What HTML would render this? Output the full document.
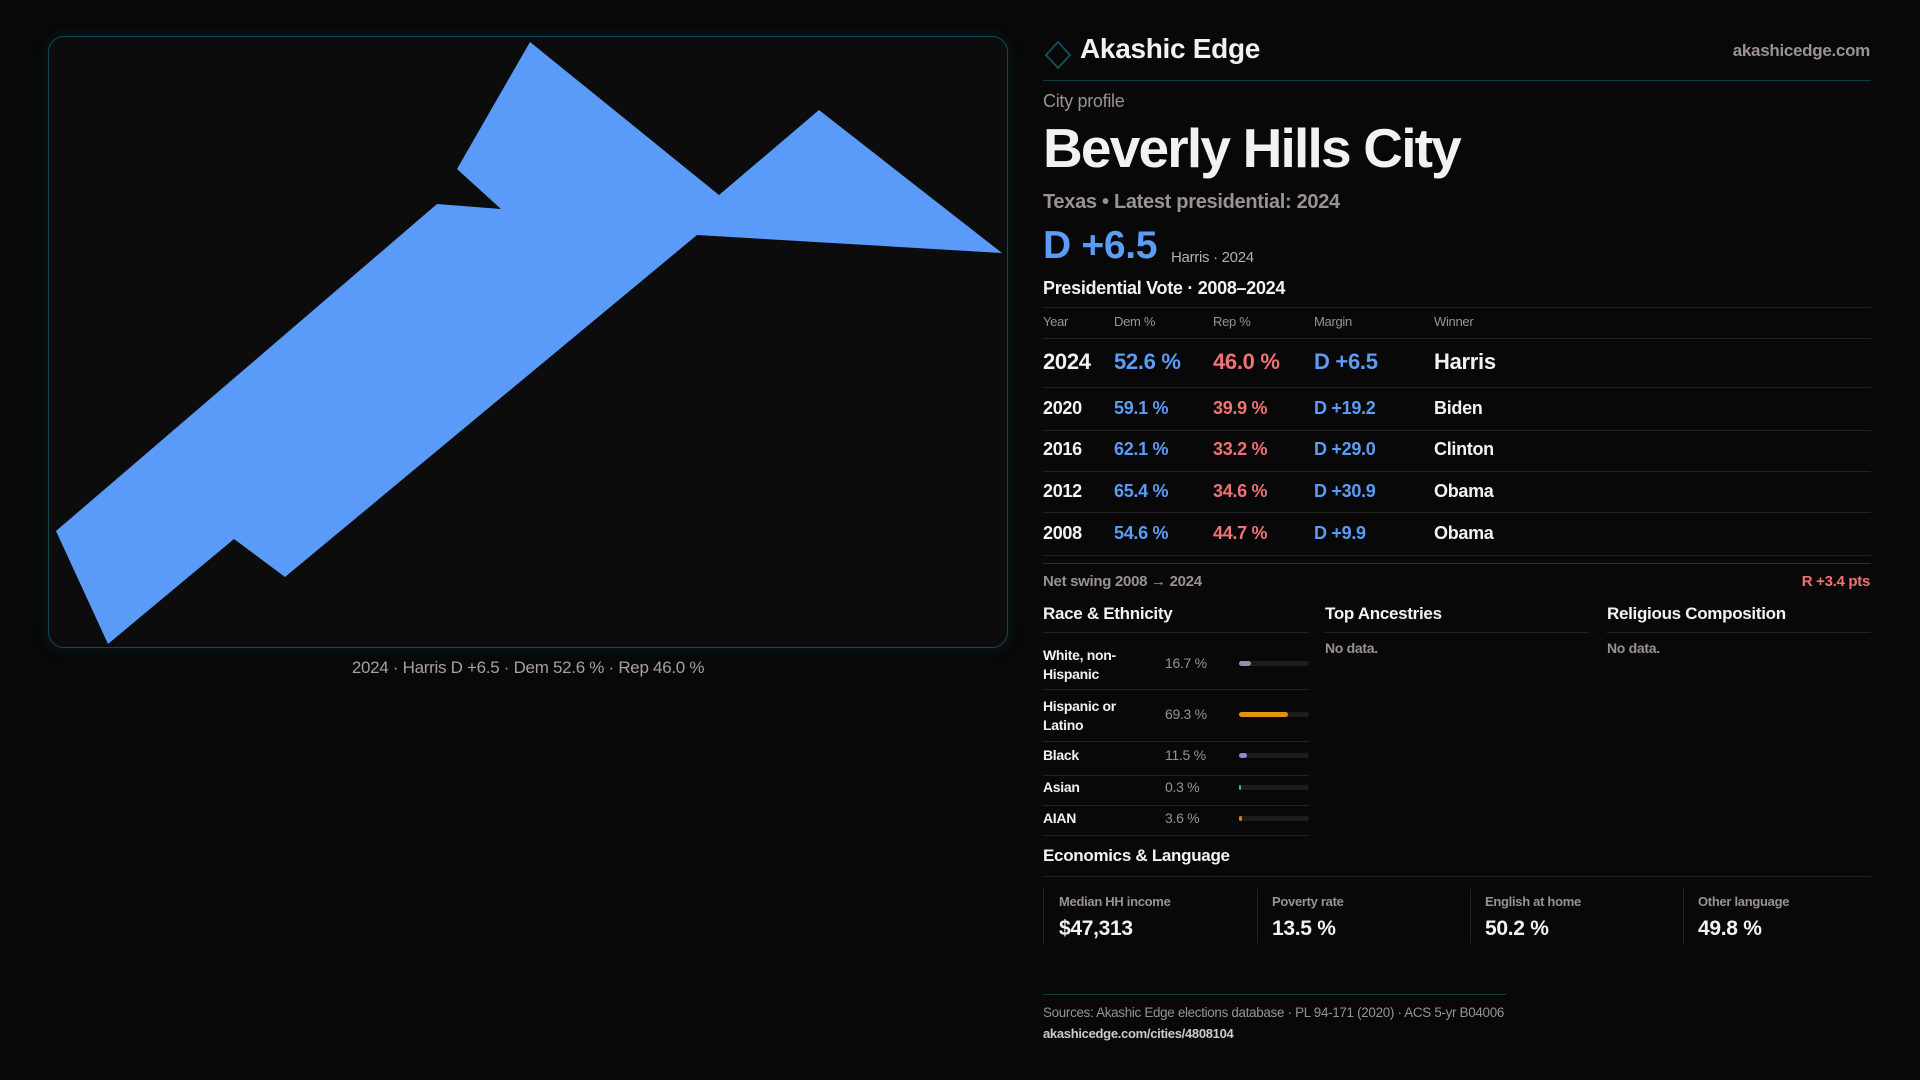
<!DOCTYPE html>
<html><head><meta charset="utf-8"><style>
*{margin:0;padding:0;box-sizing:border-box}
body{width:1920px;height:1080px;background:#080808;font-family:"Liberation Sans",sans-serif;color:#f2f2f2;position:relative;overflow:hidden;letter-spacing:-0.3px}
.a{position:absolute;white-space:nowrap;line-height:1}
.panel{position:absolute;left:48px;top:36px;width:960px;height:612px;border:1.5px solid #0d4a55;border-radius:16px;background:#0d0c0d;box-shadow:0 0 14px rgba(20,90,100,0.25)}
.g{color:#9a9290}
.b{color:#5b9cf6}
.r{color:#f07272}
.hl{position:absolute;left:1043px;width:828px;height:1px;background:#232323}
.bar{position:absolute;left:1239px;width:70px;height:5px;border-radius:3px;background:#1c1c1e}
.bar i{position:absolute;left:0;top:0;height:5px;border-radius:3px}
.cell{position:absolute;top:889px;height:54px;border-left:1px solid #242424}
</style></head><body>
<div class="panel"></div>
<svg class="a" style="left:0;top:0" width="1920" height="1080">
<polygon fill="#5a9af8" points="530,42 719,195 819,110 1002,253 697,235 285,577 234,539 108,644 56,531 437,204 501,209 457,169"/>
</svg>
<div class="a g" style="left:528px;top:659px;font-size:17px;transform:translateX(-50%);color:#a8a09c">2024 · Harris D +6.5 · Dem 52.6 % · Rep 46.0 %</div>

<svg class="a" style="left:1044px;top:40px" width="28" height="30"><polygon points="14,2 26,15 14,28 2,15" fill="none" stroke="#0f5058" stroke-width="2"/></svg>
<div class="a" style="left:1080px;top:35px;font-size:28px;font-weight:bold">Akashic Edge</div>
<div class="a g" style="right:50px;top:42px;font-size:17px;font-weight:bold">akashicedge.com</div>
<div class="a" style="left:1043px;top:80px;width:828px;height:1px;background:#0e3c44"></div>
<div class="a g" style="left:1043px;top:92px;font-size:18px">City profile</div>
<div class="a" style="left:1043px;top:121px;font-size:55px;font-weight:bold;letter-spacing:-1.8px">Beverly Hills City</div>
<div class="a g" style="left:1043px;top:192px;font-size:20px;font-weight:bold">Texas • Latest presidential: 2024</div>
<div class="a b" style="left:1043px;top:226px;font-size:39px;font-weight:bold">D +6.5</div>
<div class="a g" style="left:1171px;top:250px;font-size:15px;color:#b5aeaa">Harris · 2024</div>
<div class="a" style="left:1043px;top:279px;font-size:18px;font-weight:bold">Presidential Vote · 2008–2024</div>
<div class="hl" style="top:307px"></div>
<div class="a g" style="left:1043px;top:315px;font-size:13px">Year</div>
<div class="a g" style="left:1114px;top:315px;font-size:13px">Dem %</div>
<div class="a g" style="left:1213px;top:315px;font-size:13px">Rep %</div>
<div class="a g" style="left:1314px;top:315px;font-size:13px">Margin</div>
<div class="a g" style="left:1434px;top:315px;font-size:13px">Winner</div>
<div class="hl" style="top:338px"></div>
<div class="a" style="left:1043px;top:351px;font-size:22px;font-weight:bold">2024</div>
<div class="a b" style="left:1114px;top:351px;font-size:22px;font-weight:bold">52.6 %</div>
<div class="a r" style="left:1213px;top:351px;font-size:22px;font-weight:bold">46.0 %</div>
<div class="a b" style="left:1314px;top:351px;font-size:22px;font-weight:bold">D +6.5</div>
<div class="a" style="left:1434px;top:351px;font-size:22px;font-weight:bold">Harris</div>
<div class="hl" style="top:387px"></div>
<div class="a" style="left:1043px;top:399px;font-size:18px;font-weight:bold">2020</div><div class="a b" style="left:1114px;top:399px;font-size:18px;font-weight:bold">59.1 %</div><div class="a r" style="left:1213px;top:399px;font-size:18px;font-weight:bold">39.9 %</div><div class="a b" style="left:1314px;top:399px;font-size:18px;font-weight:bold">D +19.2</div><div class="a" style="left:1434px;top:399px;font-size:18px;font-weight:bold">Biden</div>
<div class="hl" style="top:430px"></div>
<div class="a" style="left:1043px;top:440px;font-size:18px;font-weight:bold">2016</div><div class="a b" style="left:1114px;top:440px;font-size:18px;font-weight:bold">62.1 %</div><div class="a r" style="left:1213px;top:440px;font-size:18px;font-weight:bold">33.2 %</div><div class="a b" style="left:1314px;top:440px;font-size:18px;font-weight:bold">D +29.0</div><div class="a" style="left:1434px;top:440px;font-size:18px;font-weight:bold">Clinton</div>
<div class="hl" style="top:471px"></div>
<div class="a" style="left:1043px;top:482px;font-size:18px;font-weight:bold">2012</div><div class="a b" style="left:1114px;top:482px;font-size:18px;font-weight:bold">65.4 %</div><div class="a r" style="left:1213px;top:482px;font-size:18px;font-weight:bold">34.6 %</div><div class="a b" style="left:1314px;top:482px;font-size:18px;font-weight:bold">D +30.9</div><div class="a" style="left:1434px;top:482px;font-size:18px;font-weight:bold">Obama</div>
<div class="hl" style="top:512px"></div>
<div class="a" style="left:1043px;top:524px;font-size:18px;font-weight:bold">2008</div><div class="a b" style="left:1114px;top:524px;font-size:18px;font-weight:bold">54.6 %</div><div class="a r" style="left:1213px;top:524px;font-size:18px;font-weight:bold">44.7 %</div><div class="a b" style="left:1314px;top:524px;font-size:18px;font-weight:bold">D +9.9</div><div class="a" style="left:1434px;top:524px;font-size:18px;font-weight:bold">Obama</div>
<div class="hl" style="top:555px"></div>
<div class="hl" style="top:563px;background:#2e2e2e"></div>
<div class="a g" style="left:1043px;top:574px;font-size:15px;font-weight:bold">Net swing 2008 → 2024</div>
<div class="a r" style="right:50px;top:574px;font-size:15px;font-weight:bold">R +3.4 pts</div>

<div class="a" style="left:1043px;top:605px;font-size:17px;font-weight:bold">Race &amp; Ethnicity</div>
<div class="a" style="left:1325px;top:605px;font-size:17px;font-weight:bold">Top Ancestries</div>
<div class="a" style="left:1607px;top:605px;font-size:17px;font-weight:bold">Religious Composition</div>
<div class="a" style="left:1043px;top:632px;width:266px;height:1px;background:#232323"></div>
<div class="a" style="left:1325px;top:632px;width:264px;height:1px;background:#232323"></div>
<div class="a" style="left:1607px;top:632px;width:264px;height:1px;background:#232323"></div>
<div class="a g" style="left:1325px;top:641px;font-size:14px;font-weight:bold">No data.</div>
<div class="a g" style="left:1607px;top:641px;font-size:14px;font-weight:bold">No data.</div>

<div class="a" style="left:1043px;top:646px;font-size:14px;font-weight:bold;line-height:19px">White, non-<br>Hispanic</div>
<div class="a g" style="left:1165px;top:656px;font-size:14px">16.7 %</div>
<div class="bar" style="top:661px"><i style="width:12px;background:#8a95a5"></i></div>
<div class="a" style="left:1043px;top:689px;width:266px;height:1px;background:#232323"></div>
<div class="a" style="left:1043px;top:697px;font-size:14px;font-weight:bold;line-height:19px">Hispanic or<br>Latino</div>
<div class="a g" style="left:1165px;top:707px;font-size:14px">69.3 %</div>
<div class="bar" style="top:712px"><i style="width:49px;background:#e0950f"></i></div>
<div class="a" style="left:1043px;top:741px;width:266px;height:1px;background:#232323"></div>
<div class="a" style="left:1043px;top:748px;font-size:14px;font-weight:bold">Black</div>
<div class="a g" style="left:1165px;top:748px;font-size:14px">11.5 %</div>
<div class="bar" style="top:753px"><i style="width:8px;background:#9a80e8"></i></div>
<div class="a" style="left:1043px;top:775px;width:266px;height:1px;background:#232323"></div>
<div class="a" style="left:1043px;top:780px;font-size:14px;font-weight:bold">Asian</div>
<div class="a g" style="left:1165px;top:780px;font-size:14px">0.3 %</div>
<div class="bar" style="top:785px"><i style="width:2px;background:#2ac0a0"></i></div>
<div class="a" style="left:1043px;top:805px;width:266px;height:1px;background:#232323"></div>
<div class="a" style="left:1043px;top:811px;font-size:14px;font-weight:bold">AIAN</div>
<div class="a g" style="left:1165px;top:811px;font-size:14px">3.6 %</div>
<div class="bar" style="top:816px"><i style="width:3px;background:#e07a10"></i></div>
<div class="a" style="left:1043px;top:835px;width:266px;height:1px;background:#232323"></div>

<div class="a" style="left:1043px;top:847px;font-size:17px;font-weight:bold">Economics &amp; Language</div>
<div class="hl" style="top:876px"></div>
<div class="cell" style="left:1043px"></div><div class="cell" style="left:1257px"></div><div class="cell" style="left:1470px"></div><div class="cell" style="left:1683px"></div>
<div class="a g" style="left:1059px;top:895px;font-size:13px;font-weight:bold">Median HH income</div>
<div class="a" style="left:1059px;top:918px;font-size:21px;font-weight:bold">$47,313</div>
<div class="a g" style="left:1272px;top:895px;font-size:13px;font-weight:bold">Poverty rate</div>
<div class="a" style="left:1272px;top:918px;font-size:21px;font-weight:bold">13.5 %</div>
<div class="a g" style="left:1485px;top:895px;font-size:13px;font-weight:bold">English at home</div>
<div class="a" style="left:1485px;top:918px;font-size:21px;font-weight:bold">50.2 %</div>
<div class="a g" style="left:1698px;top:895px;font-size:13px;font-weight:bold">Other language</div>
<div class="a" style="left:1698px;top:918px;font-size:21px;font-weight:bold">49.8 %</div>

<div class="a" style="left:1043px;top:994px;width:463px;height:1px;background:#0e3c44"></div>
<div class="a g" style="left:1043px;top:1006px;font-size:13.4px">Sources: Akashic Edge elections database · PL 94-171 (2020) · ACS 5-yr B04006</div>
<div class="a" style="left:1043px;top:1027px;font-size:13px;font-weight:bold;color:#cfcac8">akashicedge.com/cities/4808104</div>
</body></html>
